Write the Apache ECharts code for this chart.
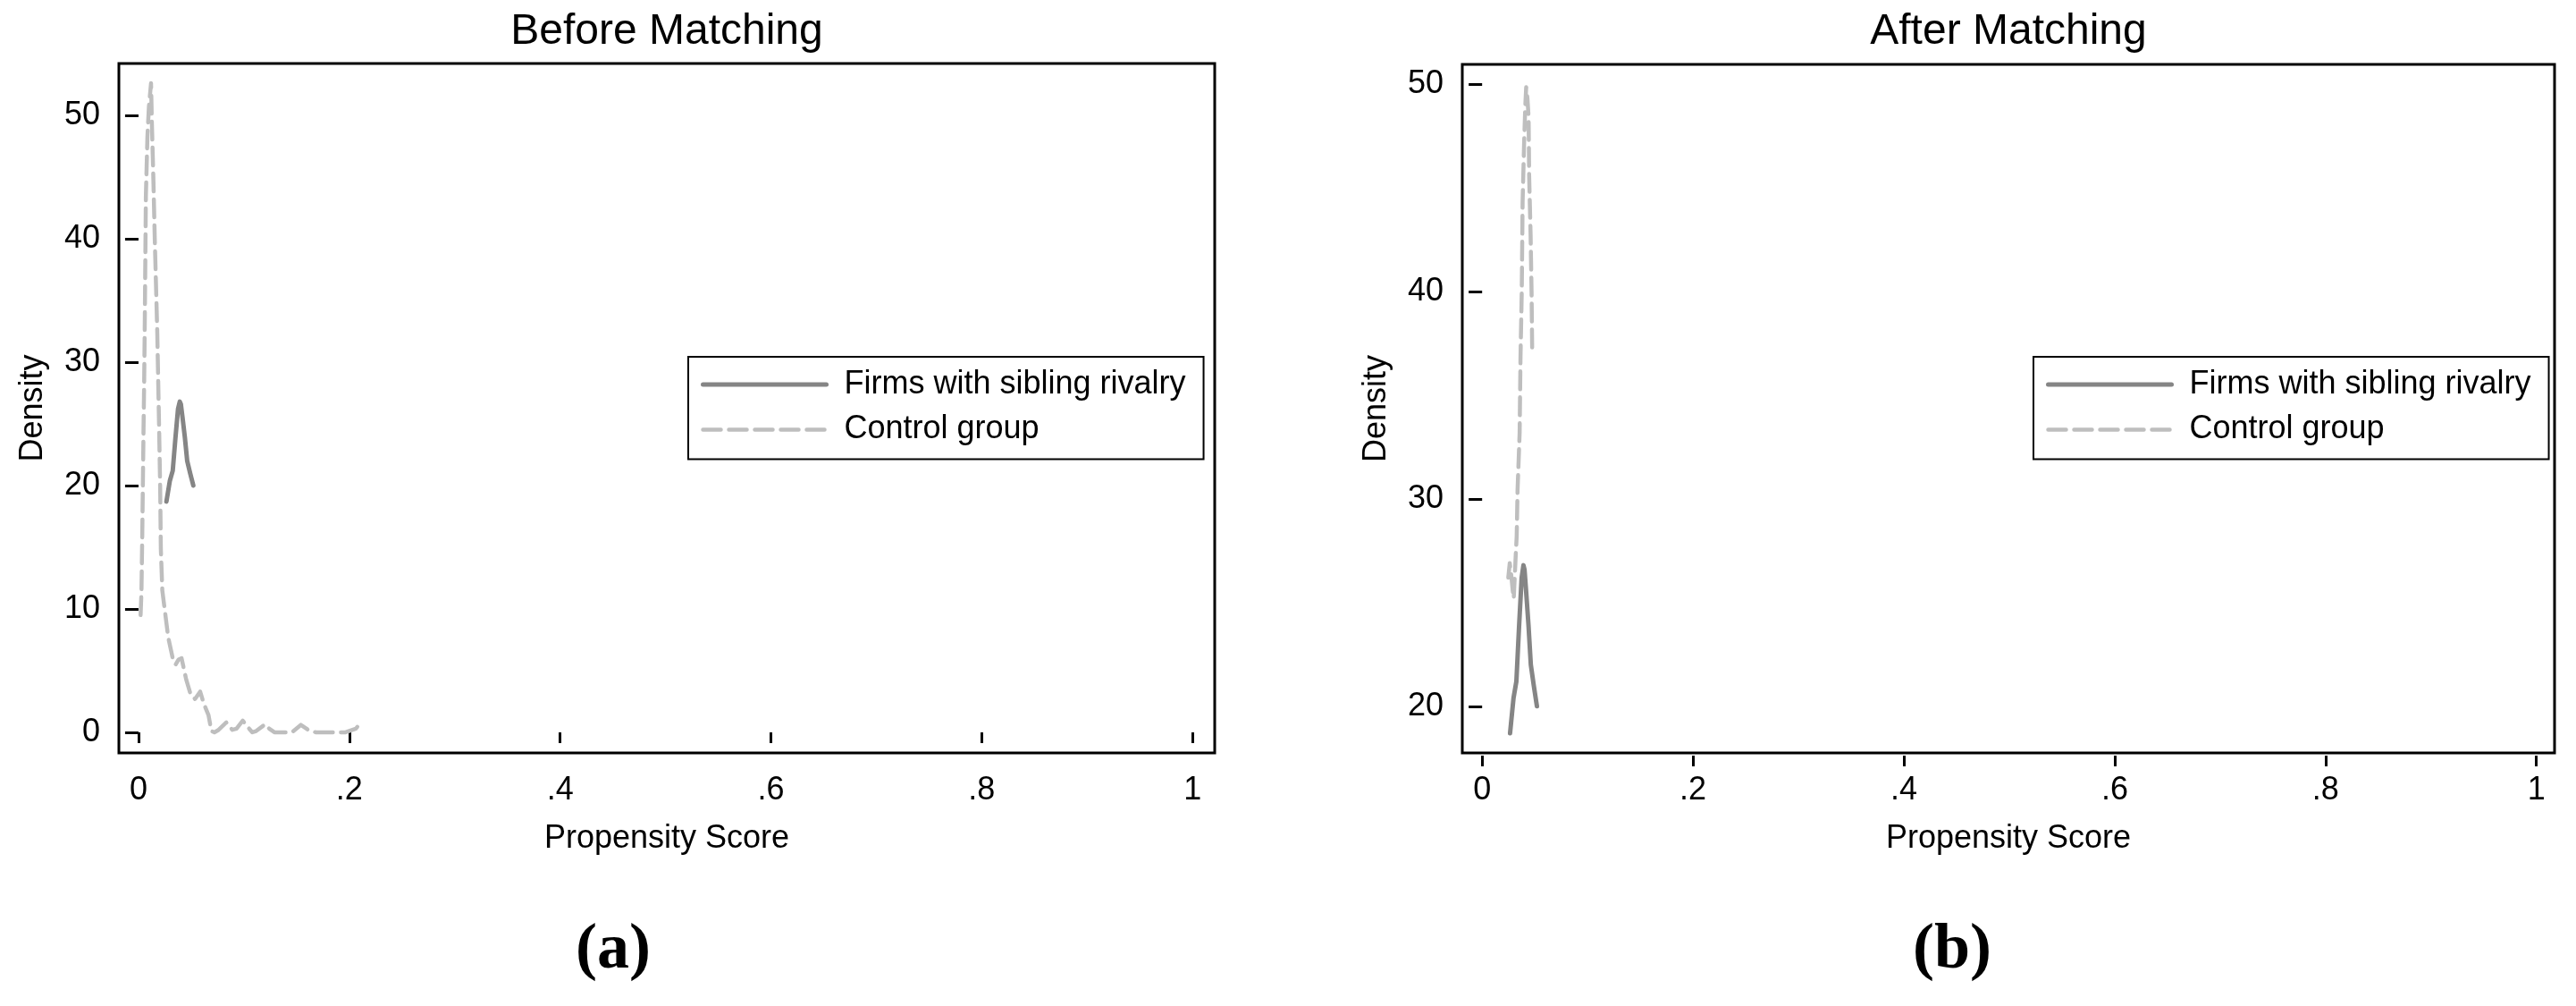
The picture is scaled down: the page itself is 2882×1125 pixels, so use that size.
<!DOCTYPE html>
<html>
<head>
<meta charset="utf-8">
<script src="https://cdn.jsdelivr.net/npm/echarts@6/dist/echarts.min.js"></script>
<style>
html,body{margin:0;padding:0;background:#fff;}
#chart{width:2882px;height:1125px;}
</style>
</head>
<body>
<div id="chart"></div>
<script>
// ---- data ----
const panelTitles = ['Before Matching', 'After Matching'];
const panelTags = ['(a)', '(b)'];
const xAxisTitle = 'Propensity Score';
const yAxisTitle = 'Density';
const seriesNames = ['Firms with sibling rivalry', 'Control group'];

const xTickValues = [0, 0.2, 0.4, 0.6, 0.8, 1];
const xTickLabels = ['0', '.2', '.4', '.6', '.8', '1'];
const yTicksBefore = [0, 10, 20, 30, 40, 50];
const yTicksAfter = [20, 30, 40, 50];

// treated firms (same curve in both panels)
const treatedX = [0.0265, 0.0298, 0.0325, 0.0350, 0.0375, 0.0392, 0.0402, 0.0418, 0.0440, 0.0462, 0.0490, 0.0520];
const treatedY = [18.7, 20.4, 21.2, 23.8, 26.2, 26.8, 26.6, 25.5, 23.9, 22.0, 21.0, 20.0];

// control group, before matching
const ctrlBeforeX = [0.0020, 0.0028, 0.0036, 0.0048, 0.0054, 0.0059, 0.0070, 0.0085, 0.0099, 0.0119, 0.0127, 0.0142, 0.0155, 0.0178, 0.0195, 0.0206, 0.0212, 0.0226, 0.0254, 0.0282, 0.0325, 0.0353, 0.0380, 0.0409, 0.0452, 0.0494, 0.0536, 0.0585, 0.0621, 0.0664, 0.0692, 0.0720, 0.0760, 0.0833, 0.0890, 0.0930, 0.0989, 0.1040, 0.1080, 0.1116, 0.1201, 0.1240, 0.1290, 0.1455, 0.1540, 0.1610, 0.1681, 0.1964, 0.2062, 0.2091];
const ctrlBeforeY = [9.5, 11.3, 16.1, 24.6, 28.5, 32.5, 43.4, 48.3, 50.7, 52.6, 49.4, 44.6, 39.8, 32.5, 25.0, 19.7, 14.9, 11.5, 9.6, 7.7, 6.0, 5.5, 5.9, 6.0, 4.3, 3.1, 2.7, 3.3, 2.3, 1.4, 0.1, 0.0, 0.2, 0.8, 0.2, 0.3, 0.95, 0.4, 0.0, 0.1, 0.65, 0.3, 0.0, 0.0, 0.6, 0.2, 0.0, 0.0, 0.3, 0.6];

// control group, after matching
const ctrlAfterX = [0.0248, 0.0262, 0.0275, 0.0290, 0.0300, 0.0310, 0.0319, 0.0328, 0.0336, 0.0356, 0.0364, 0.0376, 0.0384, 0.0398, 0.0410, 0.0418, 0.0430, 0.0441, 0.0446, 0.0460, 0.0469, 0.0475];
const ctrlAfterY = [26.2, 26.9, 26.4, 25.6, 25.2, 26.3, 27.3, 28.2, 30.4, 33.2, 36.8, 40.0, 44.3, 47.1, 49.0, 49.85, 49.3, 48.4, 45.6, 42.7, 40.0, 37.1];

// ---- chart ----
const FONT = '"Liberation Sans", Arial, Helvetica, sans-serif';
const SERIF = '"Liberation Serif", "DejaVu Serif", serif';
const TREATED_COLOR = '#858585';
const CONTROL_COLOR = '#bebebe';
const treatedLine = {color: TREATED_COLOR, width: 5, cap: 'round', join: 'round'};
const controlLine = {color: CONTROL_COLOR, width: 4.5, type: [20, 9], cap: 'round', join: 'round'};

const zip = (xs, ys) => xs.map((x, i) => [x, ys[i]]);
const fmtX = v => {
  const i = xTickValues.findIndex(t => Math.abs(t - v) < 1e-9);
  return i >= 0 ? xTickLabels[i] : '';
};

const grids = [
  {left: 133, top: 71, width: 1226, height: 771},
  {left: 1636, top: 72, width: 1222, height: 770}
];
const yRanges = [[-1.67, 54.2], [17.75, 50.95]];
const yTicks = [yTicksBefore, yTicksAfter];
const xRanges = [[-0.0186, 1.021], [-0.0188, 1.0172]];

const chart = echarts.init(document.getElementById('chart'), null, {renderer: 'canvas'});

const titleStyle = {fontFamily: FONT, fontSize: 48, fontWeight: 'normal', color: '#000'};
const tagStyle = {fontFamily: SERIF, fontSize: 72, fontWeight: 'bold', color: '#000'};

const option = {
  animation: false,
  backgroundColor: '#ffffff',
  title: [
    {text: panelTitles[0], left: 746, top: 12, textAlign: 'center', padding: 0, textStyle: titleStyle},
    {text: panelTitles[1], left: 2247, top: 12, textAlign: 'center', padding: 0, textStyle: titleStyle},
    {text: panelTags[0], left: 686, top: 1027, textAlign: 'center', padding: 0, textStyle: tagStyle},
    {text: panelTags[1], left: 2184, top: 1027, textAlign: 'center', padding: 0, textStyle: tagStyle}
  ],
  legend: [0, 1].map(k => ({
    orient: 'vertical',
    left: k === 0 ? 770 : 2275,
    top: 399,
    padding: [13, 20, 15, 14],
    itemWidth: 138,
    itemHeight: 2,
    itemGap: 14.5,
    borderColor: '#000',
    borderWidth: 2,
    backgroundColor: '#fff',
    selectedMode: false,
    itemStyle: {opacity: 0, borderWidth: 0, color: 'transparent'},
    data: [
      {name: seriesNames[0], lineStyle: treatedLine},
      {name: seriesNames[1], lineStyle: controlLine}
    ],
    textStyle: {fontFamily: FONT, fontSize: 36, color: '#000', lineHeight: 36, padding: [0, 0, 0, 15]}
  })),
  grid: grids.map(g => Object.assign({show: true, borderColor: '#000', borderWidth: 3, backgroundColor: '#fff', containLabel: false}, g)),
  xAxis: [0, 1].map(k => ({
    type: 'value', gridIndex: k, min: xRanges[k][0], max: xRanges[k][1],
    offset: 3,
    name: xAxisTitle, nameLocation: 'middle', nameGap: 75,
    nameTextStyle: {fontFamily: FONT, fontSize: 36, color: '#000'},
    axisLine: {show: false},
    axisTick: {show: true, length: 12, customValues: xTickValues, lineStyle: {color: '#000', width: 3}},
    axisLabel: {show: true, margin: 21, customValues: xTickValues, formatter: fmtX,
      fontFamily: FONT, fontSize: 36, color: '#000'},
    splitLine: {show: false}
  })),
  yAxis: [0, 1].map(k => ({
    type: 'value', gridIndex: k, min: yRanges[k][0], max: yRanges[k][1],
    name: yAxisTitle, nameLocation: 'middle', nameGap: 78, nameRotate: 90,
    nameTextStyle: {fontFamily: FONT, fontSize: 36, color: '#000'},
    axisLine: {show: false},
    axisTick: {show: true, length: 15, customValues: yTicks[k], lineStyle: {color: '#000', width: 3}},
    axisLabel: {show: true, margin: 21, customValues: yTicks[k], formatter: v => String(v),
      fontFamily: FONT, fontSize: 36, color: '#000'},
    splitLine: {show: false}
  })),
  series: [
    {name: seriesNames[0], type: 'line', xAxisIndex: 0, yAxisIndex: 0, symbol: 'none',
     data: zip(treatedX, treatedY), color: TREATED_COLOR, lineStyle: treatedLine},
    {name: seriesNames[1], type: 'line', xAxisIndex: 0, yAxisIndex: 0, symbol: 'none',
     data: zip(ctrlBeforeX, ctrlBeforeY), color: CONTROL_COLOR, lineStyle: controlLine},
    {name: seriesNames[0], type: 'line', xAxisIndex: 1, yAxisIndex: 1, symbol: 'none',
     data: zip(treatedX, treatedY), color: TREATED_COLOR, lineStyle: treatedLine},
    {name: seriesNames[1], type: 'line', xAxisIndex: 1, yAxisIndex: 1, symbol: 'none',
     data: zip(ctrlAfterX, ctrlAfterY), color: CONTROL_COLOR, lineStyle: controlLine}
  ]
};
chart.setOption(option);
</script>
</body>
</html>
